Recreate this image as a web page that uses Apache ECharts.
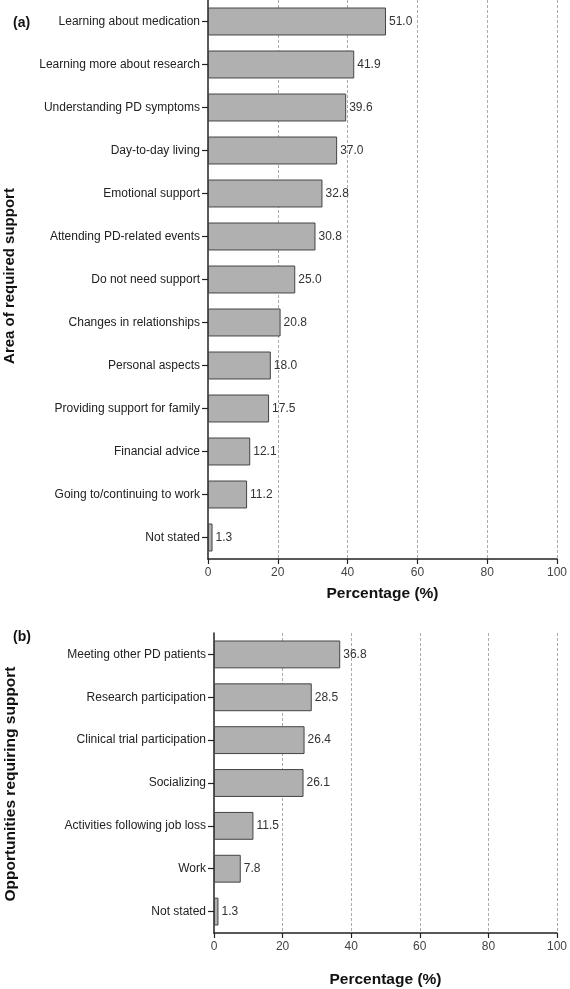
<!DOCTYPE html>
<html>
<head>
<meta charset="utf-8">
<script src="https://cdn.jsdelivr.net/npm/echarts@6/dist/echarts.min.js"></script>
<style>html,body{margin:0;padding:0;background:#fff}#c{width:570px;height:989px}</style>
</head>
<body>
<div id="c"></div>
<script>
const catsA = ["Learning about medication","Learning more about research","Understanding PD symptoms","Day-to-day living","Emotional support","Attending PD-related events","Do not need support","Changes in relationships","Personal aspects","Providing support for family","Financial advice","Going to/continuing to work","Not stated"];
const valsA = [51.0,41.9,39.6,37.0,32.8,30.8,25.0,20.8,18.0,17.5,12.1,11.2,1.3];
const catsB = ["Meeting other PD patients","Research participation","Clinical trial participation","Socializing","Activities following job loss","Work","Not stated"];
const valsB = [36.8,28.5,26.4,26.1,11.5,7.8,1.3];
const xTicks = [0,20,40,60,80,100];

const font = "Liberation Sans, Arial, sans-serif";
const chart = echarts.init(document.getElementById('c'), null, {renderer:'canvas'});

function xAxis(gi){
  return {
    gridIndex: gi, type:'value', min:0, max:100, interval:20,
    name:'Percentage (%)', nameLocation:'middle', nameGap: gi===0?27:39,
    nameTextStyle:{fontFamily:font,fontSize:15.5,fontWeight:'bold',color:'#111'},
    axisLine:{show:true,lineStyle:{color:'#222',width:1.5}},
    axisTick:{show:true,length:5,lineStyle:{color:'#222',width:1.2}},
    axisLabel:{fontFamily:font,fontSize:12,color:'#444',margin:8,
      formatter:v=> xTicks.includes(v)? String(v):''},
    splitLine:{show:true,lineStyle:{color:'#aaa',type:[3,2],width:1},
      showMinLine:false}
  };
}
function yAxis(gi,cats){
  return {
    gridIndex: gi, type:'category', data:cats, inverse:true,
    axisLine:{show:true,lineStyle:{color:'#222',width:1.5}},
    axisTick:{show:true,length:6,alignWithLabel:true,lineStyle:{color:'#222',width:1.2}},
    axisLabel:{fontFamily:font,fontSize:12,color:'#222',margin:8},
    splitLine:{show:false}
  };
}
function series(gi,vals){
  return {
    type:'bar', xAxisIndex:gi, yAxisIndex:gi, data:vals,
    barCategoryGap:'35%',
    itemStyle:{color:'#b0b0b0',borderColor:'#444',borderWidth:1},
    label:{show:true,position:'right',distance:3,fontFamily:font,fontSize:12,color:'#333',
      formatter:p=>p.value.toFixed(1)},
    silent:true, animation:false
  };
}

chart.setOption({
  animation:false,
  grid:[
    {left:208,right:13,top:0,height:559},
    {left:214,right:13,top:633,height:306}
  ],
  xAxis:[xAxis(0),xAxis(1)],
  yAxis:[yAxis(0,catsA),yAxis(1,catsB)],
  series:[series(0,valsA),series(1,valsB)],
  graphic:[
    {type:'text',left:13,top:16,style:{text:'(a)',fontFamily:font,fontSize:14,fontWeight:'bold',fill:'#111'}},
    {type:'text',left:13,top:630,style:{text:'(b)',fontFamily:font,fontSize:14,fontWeight:'bold',fill:'#111'}},
    {type:'text',x:10,y:276,rotation:Math.PI/2,style:{text:'Area of required support',fontFamily:font,fontSize:15,fontWeight:'bold',fill:'#111',align:'center',verticalAlign:'middle'}},
    {type:'text',x:11,y:784,rotation:Math.PI/2,style:{text:'Opportunities requiring support',fontFamily:font,fontSize:15.5,fontWeight:'bold',fill:'#111',align:'center',verticalAlign:'middle'}}
  ]
});
</script>
</body>
</html>
